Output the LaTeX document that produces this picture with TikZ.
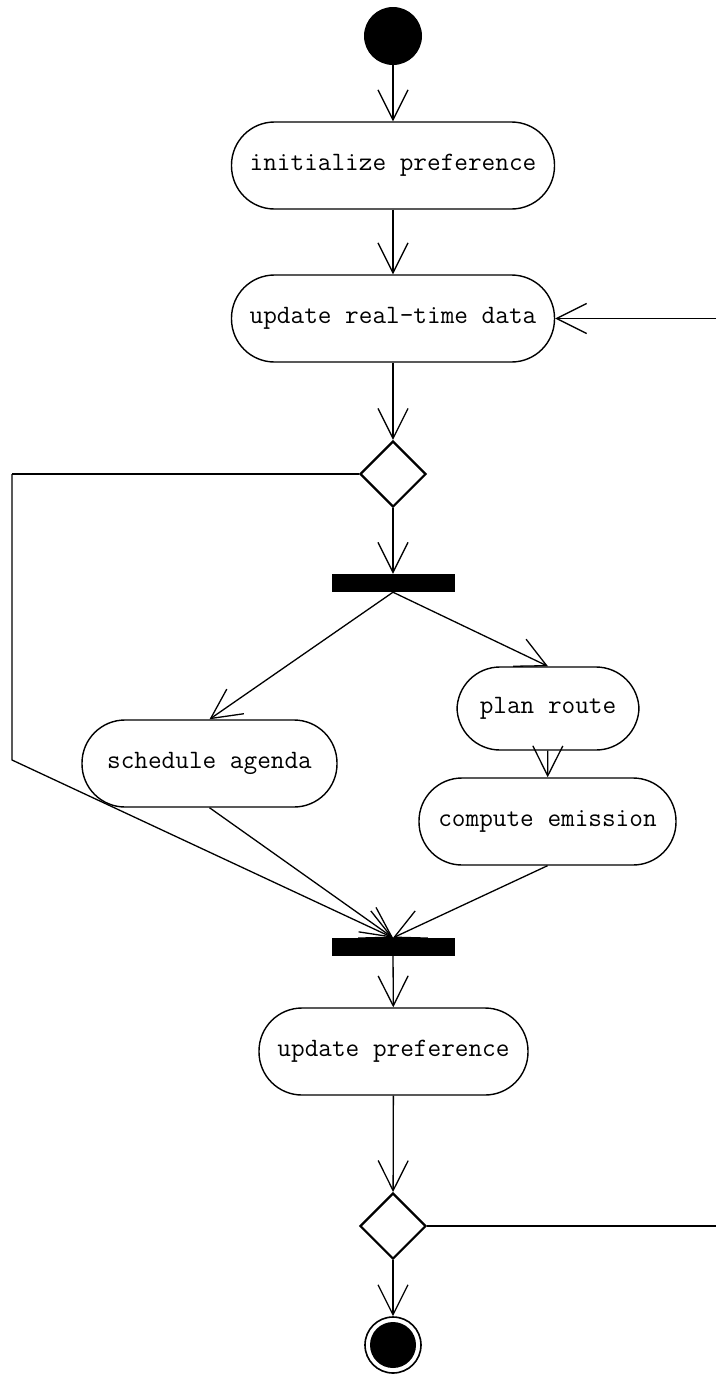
\documentclass[tikz,border=0pt]{standalone}
\usepackage{tikz}
\usetikzlibrary{arrows.meta, shapes.geometric}

\begin{document}
\begin{tikzpicture}[x=1pt, y=-1pt]

\tikzset{activity/.style = {shape=rectangle, draw, line width=1.4pt, rounded corners=43pt, minimum height=87pt, inner sep=0pt, font=\fontsize{26.5}{30}\selectfont\ttfamily}}
\tikzset{decision/.style = {shape=diamond, draw, line width=2.2pt, minimum size=66pt, inner sep=0pt}}
\tikzset{bar/.style = {shape=rectangle, fill=black, minimum width=123pt, minimum height=18pt, inner sep=0pt}}
\tikzset{initial state/.style = {shape=circle, fill=black, minimum size=58pt, inner sep=0pt}}
\tikzset{final state/.style = {shape=circle, draw, line width=1.6pt, minimum size=56pt, inner sep=0pt, path picture={\fill (path picture bounding box.center) circle (23pt);}}}
\tikzset{flow/.style = {-{Straight Barb[length=30pt, width=30pt]}, line width=1.3pt}}
\tikzset{guard/.style = {line width=2pt}}

\useasboundingbox (0,0) rectangle (716,1374);

%nodes
\node[initial state] (start) at (393,36) {};
\node[activity, minimum width=323pt] (init) at (393,165.5) {initialize preference};
\node[activity, minimum width=323pt] (rtdata) at (393,318.5) {update real-time data};
\node[decision] (dec1) at (393,474) {};
\node[bar] (fork) at (393,583) {};
\node[activity, minimum width=255pt] (sched) at (209.5,763.5) {schedule agenda};
\node[activity, minimum width=182pt, minimum height=83pt] (plan) at (548,708.5) {plan route};
\node[activity, minimum width=257pt] (emis) at (547.5,821.5) {compute emission};
\node[bar] (join) at (393,947) {};
\node[activity, minimum width=269pt] (updpref) at (393.5,1051.5) {update preference};
\node[decision] (dec2) at (393,1226) {};
\node[final state] (end) at (393,1345) {};

%loop ends
\coordinate (loopin) at (716,318.5);
\coordinate (loopout) at (716,1226);
\coordinate (lefttop) at (12,474);
\coordinate (leftbot) at (12,760);

%edges
\draw [flow] (start) -- (init);
\draw [flow] (init) -- (rtdata);
\draw [flow] (loopin) -- (rtdata);
\draw [flow] (rtdata) -- (dec1);
\draw [flow] (dec1) -- (fork);
\draw [flow] (fork.south) -- (sched.north);
\draw [flow] (fork.south) -- (plan.north);
\draw [flow] (plan) -- (emis);
\draw [flow] (sched.south) -- (join.north);
\draw [flow] (emis.south) -- (join.north);
\draw [guard] (dec1.west) -- (lefttop);
\draw [flow] (lefttop) -- (leftbot) -- (join.north);
\draw [flow] (join) -- (updpref);
\draw [flow] (updpref) -- (dec2);
\draw [guard] (dec2.east) -- (loopout);
\draw [flow] (dec2) -- (end);

\end{tikzpicture}
\end{document}
